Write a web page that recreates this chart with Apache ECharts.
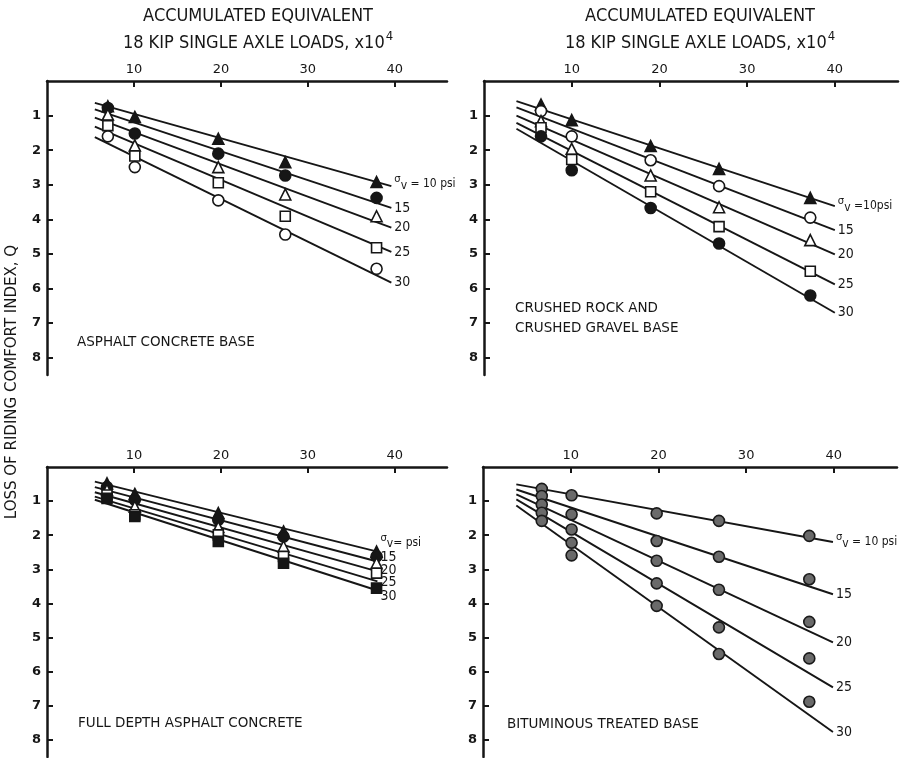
<!DOCTYPE html>
<html>
<head>
<meta charset="utf-8">
<script src="https://cdn.jsdelivr.net/npm/echarts@6/dist/echarts.min.js"></script>
<style>
  html, body { margin: 0; padding: 0; background: #fff; }
  #chart { width: 901px; height: 758px; }
</style>
</head>
<body>
<div id="chart"></div>
<script>
const stressLabels = ['10', '15', '20', '25', '30']
const xTicks = [10, 20, 30, 40]
const qTicks = [1, 2, 3, 4, 5, 6, 7, 8]

// asphalt concrete base
const acbX = [7, 10.1, 19.7, 27.4, 37.9]
const acbQ = [
  [0.73, 1.04, 1.67, 2.35, 2.92],
  [0.78, 1.52, 2.10, 2.73, 3.38],
  [0.97, 1.86, 2.49, 3.28, 3.91],
  [1.29, 2.17, 2.94, 3.91, 4.82],
  [1.60, 2.49, 3.45, 4.44, 5.43]
]
const acbFitX = [5.5, 39.6]
const acbFitQ = [[0.63, 3.04], [0.82, 3.67], [1.06, 4.24], [1.32, 4.94], [1.62, 5.83]]

// crushed rock and crushed gravel base
const crbX = [6.5, 10.0, 19.0, 26.8, 37.2]
const crbQ = [
  [0.68, 1.13, 1.88, 2.54, 3.38],
  [0.87, 1.60, 2.29, 3.04, 3.95],
  [1.16, 1.96, 2.73, 3.65, 4.60],
  [1.35, 2.27, 3.20, 4.21, 5.50],
  [1.60, 2.58, 3.67, 4.70, 6.20]
]
const crbFitX = [3.7, 40]
const crbFitQ = [[0.58, 3.62], [0.76, 4.31], [1.0, 5.01], [1.21, 5.88], [1.38, 6.70]]

// full depth asphalt concrete
const fdX = [6.9, 10.1, 19.7, 27.2, 37.9]
const fdQ = [
  [0.48, 0.79, 1.35, 1.89, 2.48],
  [0.59, 0.96, 1.55, 2.04, 2.62],
  [0.67, 1.16, 1.76, 2.33, 2.82],
  [0.82, 1.40, 1.99, 2.62, 3.11],
  [0.92, 1.45, 2.18, 2.82, 3.55]
]
const fdFitX = [5.5, 38]
const fdFitQ = [[0.43, 2.48], [0.59, 2.77], [0.74, 3.06], [0.87, 3.35], [0.96, 3.62]]

// bituminous treated base
const btbX = [6.7, 10.1, 19.8, 26.9, 37.2]
const btbQ = [
  [0.64, 0.83, 1.36, 1.58, 2.02],
  [0.85, 1.39, 2.17, 2.63, 3.29],
  [1.10, 1.83, 2.75, 3.60, 4.54],
  [1.34, 2.22, 3.41, 4.70, 5.61],
  [1.58, 2.59, 4.07, 5.48, 6.88]
]
const btbFitX = [3.8, 39.9]
const btbFitQ = [[0.51, 2.20], [0.66, 3.73], [0.80, 5.14], [0.95, 6.46], [1.13, 7.77]]

const INK = '#161616'
const FONT = "'DejaVu Sans', sans-serif"
const NARROW = "'DejaVu Sans Condensed', 'DejaVu Sans', sans-serif"

// marker styles
const filled = (symbol) => ({ symbol, color: INK, border: INK })
const open = (symbol) => ({ symbol, color: '#fff', border: INK })
const grey = () => ({ symbol: 'circle', color: '#6a6a6a', border: '#1a1a1a' })

const panels = [
  {
    grid: { left: 47, top: 81, width: 400, height: 294 }, xMax: 46,
    x: acbX, q: acbQ, fitX: acbFitX, fitQ: acbFitQ,
    marks: [filled('triangle'), filled('circle'), open('triangle'), open('rect'), open('circle')],
    first: '{s|σ}{v|v} = 10 psi', shift: [-2, 0, 0, 0, 0]
  },
  {
    grid: { left: 484, top: 81, width: 414, height: 294 }, xMax: 47.2,
    x: crbX, q: crbQ, fitX: crbFitX, fitQ: crbFitQ,
    marks: [filled('triangle'), open('circle'), open('triangle'), open('rect'), filled('circle')],
    first: '{s|σ}{v|v} =10psi', shift: [0, 0, 0, 0, 0]
  },
  {
    grid: { left: 47, top: 467, width: 400, height: 290 }, xMax: 46,
    x: fdX, q: fdQ, fitX: fdFitX, fitQ: fdFitQ,
    marks: [filled('triangle'), filled('circle'), open('triangle'), open('rect'), filled('rect')],
    first: '{s|σ}{v|v}= psi', shift: [-9, -4, -1, 1, 6]
  },
  {
    grid: { left: 483, top: 467, width: 414, height: 290 }, xMax: 47.2,
    x: btbX, q: btbQ, fitX: btbFitX, fitQ: btbFitQ,
    marks: [grey(), grey(), grey(), grey(), grey()],
    first: '{s|σ}{v|v} = 10 psi', shift: [0, 0, 0, 0, 0]
  }
]

const grids = []
const xAxes = []
const yAxes = []
const series = []

panels.forEach((p, i) => {
  grids.push(Object.assign({ outerBoundsMode: 'none' }, p.grid))
  xAxes.push({
    gridIndex: i, type: 'value', position: 'top', min: 0, max: p.xMax,
    axisLine: { show: true, onZero: false, lineStyle: { color: INK, width: 2.5 } },
    axisTick: { show: true, inside: true, length: 6, customValues: xTicks, lineStyle: { color: INK, width: 2 } },
    axisLabel: { customValues: xTicks, color: INK, fontSize: 13, fontFamily: FONT, margin: 5 },
    splitLine: { show: false }
  })
  yAxes.push({
    gridIndex: i, type: 'value', inverse: true, min: 0, max: 8.5,
    axisLine: { show: true, onZero: false, lineStyle: { color: INK, width: 2.5 } },
    axisTick: { show: true, inside: true, length: 6, customValues: qTicks, lineStyle: { color: INK, width: 2 } },
    axisLabel: { customValues: qTicks, color: INK, fontSize: 13, fontFamily: FONT, fontWeight: 'bold', margin: 6 },
    splitLine: { show: false }
  })

  p.fitQ.forEach((ends, k) => {
    series.push({
      type: 'line', xAxisIndex: i, yAxisIndex: i, silent: true,
      name: stressLabels[k],
      data: [[p.fitX[0], ends[0]], [p.fitX[1], ends[1]]],
      showSymbol: false, z: 2,
      lineStyle: { color: INK, width: 1.9 },
      endLabel: {
        show: true, distance: 3, color: INK, offset: [0, p.shift[k]],
        fontFamily: NARROW, fontSize: k === 0 ? 12 : 14,
        formatter: k === 0 ? p.first : stressLabels[k],
        rich: {
          s: { fontSize: 10, fontFamily: FONT, color: INK, padding: [0, 0, 9, 0] },
          v: { fontSize: 12, fontFamily: NARROW, color: INK, padding: [3, 0, 0, 0] }
        }
      }
    })
  })

  p.q.forEach((row, k) => {
    const m = p.marks[k]
    series.push({
      type: 'scatter', xAxisIndex: i, yAxisIndex: i, silent: true,
      data: row.map((v, j) => [p.x[j], v]),
      symbol: m.symbol, symbolSize: m.symbol === 'rect' ? 10 : 11, z: 3,
      itemStyle: { color: m.color, borderColor: m.border, borderWidth: 1.6, opacity: 1 }
    })
  })
})

const header = (cx) => [
  {
    type: 'text', x: cx, y: 16,
    style: { text: 'ACCUMULATED EQUIVALENT', fill: INK, font: '18px ' + NARROW, textAlign: 'center', textVerticalAlign: 'middle' }
  },
  {
    type: 'text', x: cx, y: 43,
    style: {
      text: '18 KIP SINGLE AXLE LOADS, x10{sup|4}', fill: INK, font: '18px ' + NARROW,
      textAlign: 'center', textVerticalAlign: 'middle',
      rich: { sup: { fontSize: 13, fontFamily: NARROW, fill: INK, padding: [0, 0, 12, 1] } }
    }
  }
]

const panelLabel = (x, y, text) => ({
  type: 'text', x, y,
  style: { text, fill: INK, font: '13.5px ' + FONT, lineHeight: 20, textVerticalAlign: 'middle' }
})

const chart = echarts.init(document.getElementById('chart'), null, { renderer: 'canvas' })
chart.setOption({
  backgroundColor: '#fff',
  animation: false,
  grid: grids,
  xAxis: xAxes,
  yAxis: yAxes,
  series,
  graphic: [
    ...header(258),
    ...header(700),
    {
      type: 'text', x: 12, y: 382, rotation: Math.PI / 2,
      style: { text: 'LOSS OF RIDING COMFORT INDEX, Q', fill: INK, font: '15px ' + FONT, textAlign: 'center', textVerticalAlign: 'middle' }
    },
    panelLabel(77, 342, 'ASPHALT CONCRETE BASE'),
    panelLabel(515, 318, 'CRUSHED ROCK AND\nCRUSHED GRAVEL BASE'),
    panelLabel(78, 723, 'FULL DEPTH ASPHALT CONCRETE'),
    panelLabel(507, 724, 'BITUMINOUS TREATED BASE')
  ]
})
</script>
</body>
</html>
